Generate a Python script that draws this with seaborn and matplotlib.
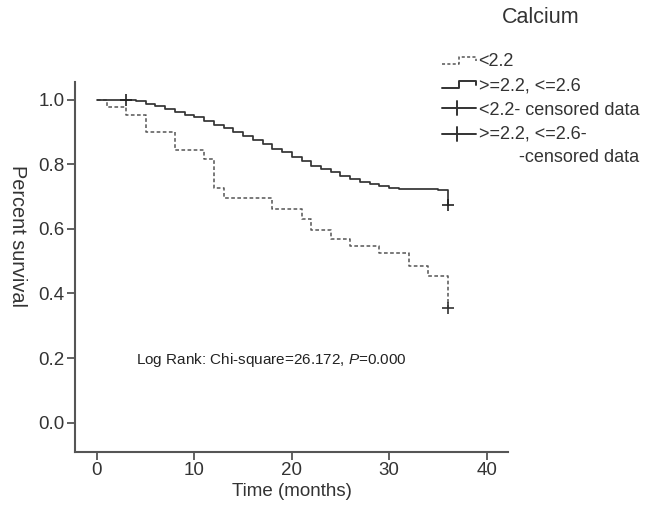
import numpy as np
import pandas as pd
import matplotlib
matplotlib.use("Agg")
import matplotlib.pyplot as plt
import seaborn as sns
from matplotlib.legend_handler import HandlerBase
from matplotlib.lines import Line2D

# ---- data ----
low_time = [0, 1, 3, 5, 8, 11, 12, 13, 18, 21, 22, 24, 26, 29, 32, 34, 36]
low_surv = [1.0, 0.976, 0.951, 0.900, 0.845, 0.816, 0.728, 0.696, 0.662, 0.629,
            0.595, 0.570, 0.546, 0.525, 0.484, 0.453, 0.356]

norm_time = [0, 4, 5, 6, 7, 8, 9, 10, 11, 12, 13, 14, 15, 16, 17, 18, 19, 20, 21,
             22, 23, 24, 25, 26, 27, 28, 29, 30, 31, 35, 36]
norm_surv = [1.0, 0.996, 0.988, 0.981, 0.970, 0.962, 0.954, 0.946, 0.933, 0.923,
             0.912, 0.899, 0.889, 0.874, 0.864, 0.848, 0.837, 0.824, 0.809, 0.796,
             0.785, 0.776, 0.765, 0.754, 0.745, 0.739, 0.734, 0.728, 0.724, 0.721, 0.675]

low_cens_time = [36]
low_cens_surv = [0.356]
norm_cens_time = [3, 36]
norm_cens_surv = [1.0, 0.675]

x_ticks = [0, 10, 20, 30, 40]
y_ticks = [0.0, 0.2, 0.4, 0.6, 0.8, 1.0]

legend_title = "Calcium"
labels = ["<2.2", ">=2.2, <=2.6", "<2.2- censored data",
          ">=2.2, <=2.6-\n        -censored data"]
annotation = "Log Rank: Chi-square=26.172, $\\it{P}$=0.000"

# ---- style ----
sns.set_theme(style="white")
plt.rcParams["font.family"] = ["Liberation Sans", "DejaVu Sans"]
plt.rcParams["mathtext.fontset"] = "custom"
plt.rcParams["mathtext.it"] = "Liberation Sans:italic"
plt.rcParams["mathtext.rm"] = "Liberation Sans"

ink = "#333333"
spine_c = "#555555"

fig = plt.figure(figsize=(6.48, 5.09), dpi=100)
ax = fig.add_axes([0.1157, 0.1126, 0.6683, 0.7265])

df_low = pd.DataFrame({"time": low_time, "surv": low_surv})
df_norm = pd.DataFrame({"time": norm_time, "surv": norm_surv})

sns.lineplot(data=df_low, x="time", y="surv", ax=ax, drawstyle="steps-post",
             color="#555555", lw=1.1, linestyle=(0, (2.4, 1.6)), estimator=None)
sns.lineplot(data=df_norm, x="time", y="surv", ax=ax, drawstyle="steps-post",
             color="#333333", lw=1.25, estimator=None)

sns.scatterplot(x=low_cens_time, y=low_cens_surv, ax=ax, marker="+", s=70,
                color="#333333", linewidth=1.2, zorder=5)
sns.scatterplot(x=norm_cens_time, y=norm_cens_surv, ax=ax, marker="+", s=70,
                color="#222222", linewidth=1.2, zorder=5)

ax.set_xlim(-2.26, 42.2)
ax.set_ylim(-0.09, 1.055)
ax.set_xticks(x_ticks)
ax.set_yticks(y_ticks)
ax.set_yticklabels([f"{v:.1f}" for v in y_ticks])
ax.tick_params(axis="both", direction="out", length=6, width=1.3, color=spine_c,
               labelsize=13.5, labelcolor=ink, pad=1.5, left=True, bottom=True)
for s in ["top", "right"]:
    ax.spines[s].set_visible(False)
for s in ["left", "bottom"]:
    ax.spines[s].set_color(spine_c)
    ax.spines[s].set_linewidth(1.5)

ax.set_xlabel("Time (months)", fontsize=13.5, color=ink, labelpad=3)
ax.set_ylabel("")
fig.text(0.027, 0.536, "Percent survival", rotation=270, fontsize=14.3,
         color=ink, ha="center", va="center")

ax.text(17.9, 0.195, annotation, fontsize=11, color="#222222",
        ha="center", va="center")


# ---- legend with step-shaped handles ----
class PulseHandler(HandlerBase):
    def __init__(self, ls, lw, color):
        super().__init__()
        self.ls, self.lw, self.color = ls, lw, color

    def create_artists(self, legend, orig_handle, xdescent, ydescent,
                       width, height, fontsize, trans):
        x0, x1 = -xdescent, -xdescent + width
        yl = -ydescent + height * 0.2
        yh = -ydescent + height * 0.75
        xm = x0 + 0.5 * width
        xs = [x0, xm, xm, x1, x1]
        ys = [yl, yl, yh, yh, yl + 0.35 * (yh - yl)]
        ln = Line2D(xs, ys, color=self.color, lw=self.lw, linestyle=self.ls,
                    transform=trans)
        return [ln]


class CensorHandler(HandlerBase):
    def __init__(self, yoff=0.0):
        super().__init__()
        self.yoff = yoff

    def create_artists(self, legend, orig_handle, xdescent, ydescent,
                       width, height, fontsize, trans):
        x0, x1 = -xdescent, -xdescent + width
        ym = -ydescent + height * 0.5 + self.yoff
        xm = x0 + 0.45 * width
        h = Line2D([x0, x1], [ym, ym], color="#333333", lw=1.4, transform=trans)
        v = Line2D([xm, xm], [ym - height * 0.55, ym + height * 0.55],
                   color="#333333", lw=1.4, transform=trans)
        return [h, v]


class H1: pass
class H2: pass
class H3: pass
class H4: pass


hs = [H1(), H2(), H3(), H4()]
hmap = {H1: PulseHandler((0, (2, 1.5)), 1.1, "#555555"),
        H2: PulseHandler("-", 1.4, "#333333"),
        H3: CensorHandler(), H4: CensorHandler(yoff=8.3)}

leg = fig.legend(hs, labels, handler_map=hmap, title=legend_title,
                 loc="upper left", bbox_to_anchor=(0.671, 1.0),
                 frameon=False, fontsize=13, title_fontsize=15.5,
                 handlelength=1.9, handletextpad=0.12, labelspacing=0.4,
                 alignment="center", borderaxespad=0.0)
for t in leg.get_texts():
    t.set_color(ink)
    t.set_linespacing(1.44)
leg.get_title().set_color(ink)
leg._legend_box.sep = 18

fig.savefig("out.png", dpi=100)
